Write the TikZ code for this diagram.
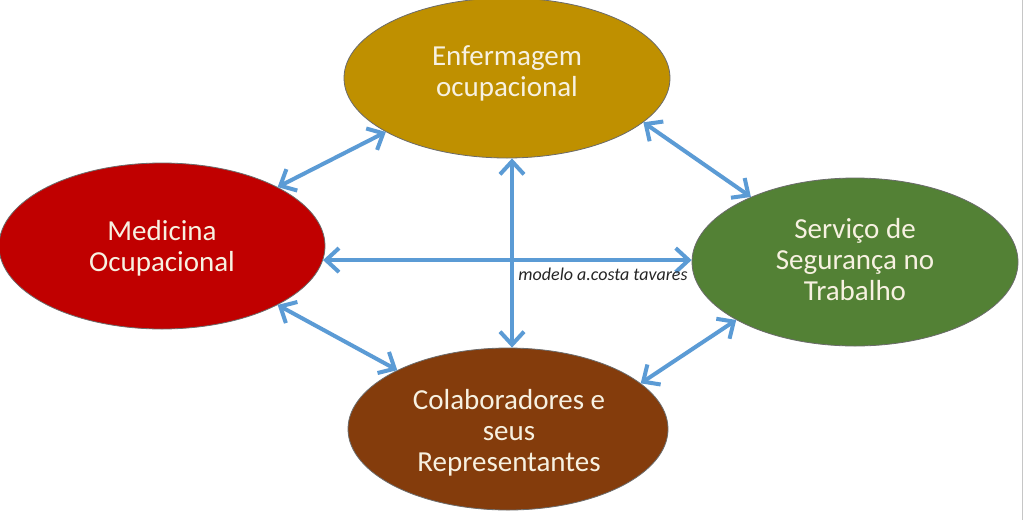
\documentclass[tikz,border=0pt]{standalone}
\usepackage{fontspec}
\setmainfont{Carlito}
\usetikzlibrary{shapes.geometric,arrows.meta}
\definecolor{enfcol}{HTML}{BF9000}
\definecolor{medcol}{HTML}{C00000}
\definecolor{srvcol}{HTML}{538135}
\definecolor{colcol}{HTML}{843C0C}
\definecolor{edgecol}{HTML}{6B6B6B}
\definecolor{txtcol}{HTML}{F7F1E1}
\definecolor{arrcol}{HTML}{5B9BD5}
\tikzset{
  bubble/.style={ellipse, draw=edgecol, line width=0.8pt, inner sep=0pt},
  bubtext/.style={text=txtcol, align=center, inner sep=0pt,
    font=\fontsize{29}{31}\selectfont},
  link/.style={draw=arrcol, line width=4pt,
    {Straight Barb[length=13pt,width=24pt,line width=4pt]}-{Straight Barb[length=13pt,width=24pt,line width=4pt]}},
  credit/.style={font=\fontsize{18}{20}\selectfont\itshape, text=black!85, inner sep=0pt}
}
\begin{document}
\begin{tikzpicture}[x=1pt,y=-1pt]
\useasboundingbox (0,0) rectangle (1024,520);
\fill[white] (0,0) rectangle (1024,520);
\draw[gray!45, line width=1pt] (1022.5,0) -- (1022.5,520);

\node[bubble, fill=enfcol, minimum width=326pt, minimum height=160pt] (enf) at (507,78) {};
\node[bubble, fill=medcol, minimum width=326pt, minimum height=166pt] (med) at (162,246) {};
\node[bubble, fill=srvcol, minimum width=326pt, minimum height=168pt] (srv) at (855,262) {};
\node[bubble, fill=colcol, minimum width=320pt, minimum height=162pt] (col) at (508,429) {};

\node[bubtext] (enft) at (507,73) {Enfermagem\\ocupacional};
\node[bubtext] (medt) at (162,248) {Medicina\\Ocupacional};
\node[bubtext] (srvt) at (855,260) {Serviço de\\Segurança no\\Trabalho};
\node[bubtext] (colt) at (509,433) {Colaboradores e\\seus\\Representantes};

\draw[link] (med.27.6) -- (enf.204.8);
\draw[link] (enf.-18.7) -- (srv.148.7);
\draw[link] (med.-27.9) -- (col.152);
\draw[link] (srv.206.6) -- (col.19.6);
\draw[link] (med.-5) -- (med.-5 -| srv.west);
\draw[link] ([xshift=5pt]enf.south) -- ([xshift=5pt]enf.south |- col.north);

\node[credit] (lbl) at (603,274) {modelo a.costa tavares};
\end{tikzpicture}
\end{document}
